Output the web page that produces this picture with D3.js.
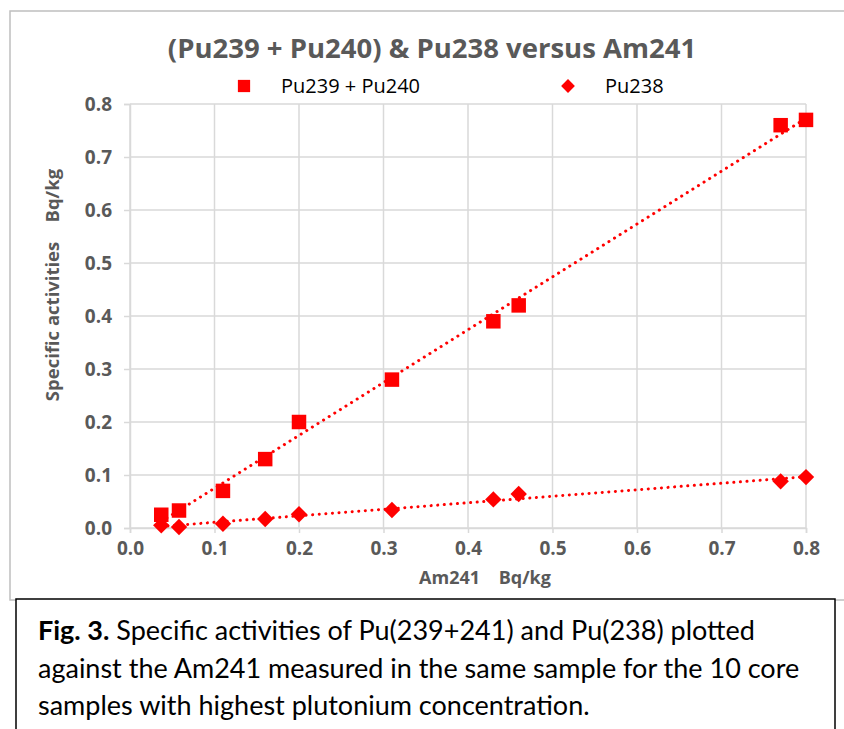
<!DOCTYPE html>
<html>
<head>
<meta charset="utf-8">
<script src="https://cdn.jsdelivr.net/npm/d3@7"></script>
<style>
  body { margin: 0; background: #fff; }
  svg { display: block; }
  .tick text { font-family: "Open Sans", sans-serif; font-weight: bold; font-size: 19px; fill: #595959; }
</style>
</head>
<body>
<svg width="844" height="729"></svg>
<script>
// data
var am241 = [0.037, 0.058, 0.11, 0.16, 0.2, 0.31, 0.43, 0.46, 0.77, 0.8];
var pu239240 = [0.025, 0.033, 0.07, 0.13, 0.2, 0.28, 0.39, 0.42, 0.76, 0.77];
var pu238 = [0.005, 0.002, 0.008, 0.017, 0.026, 0.034, 0.054, 0.064, 0.088, 0.096];
var xTicks = [0, 0.1, 0.2, 0.3, 0.4, 0.5, 0.6, 0.7, 0.8];
var yTicks = [0, 0.1, 0.2, 0.3, 0.4, 0.5, 0.6, 0.7, 0.8];
var seriesNames = ["Pu239 + Pu240", "Pu238"];

var svg = d3.select("svg");
var red = "#ff0000";
var grid = "#d9d9d9";
var chartFont = "'Open Sans', sans-serif";

// outer chart frame
svg.append("rect").attr("x", 10).attr("y", 11).attr("width", 850).attr("height", 589)
  .attr("fill", "none").attr("stroke", "#bfbfbf").attr("stroke-width", 1.5);

var pLeft = 130, pRight = 806, pTop = 104, pBottom = 528;
var x = d3.scaleLinear().domain([0, 0.8]).range([pLeft, pRight]);
var y = d3.scaleLinear().domain([0, 0.8]).range([pBottom, pTop]);

// grid
svg.append("g").selectAll("line").data(xTicks).enter().append("line")
  .attr("x1", function(d) { return x(d); }).attr("x2", function(d) { return x(d); })
  .attr("y1", pTop).attr("y2", pBottom)
  .attr("stroke", grid).attr("stroke-width", 1.5);
svg.append("g").selectAll("line").data(yTicks).enter().append("line")
  .attr("x1", pLeft).attr("x2", pRight)
  .attr("y1", function(d) { return y(d); }).attr("y2", function(d) { return y(d); })
  .attr("stroke", grid).attr("stroke-width", 1.5);

// axes
var xAxis = svg.append("g").attr("transform", "translate(0," + pBottom + ")")
  .call(d3.axisBottom(x).tickValues(xTicks).tickFormat(d3.format(".1f")).tickSize(5).tickPadding(9));
var yAxis = svg.append("g").attr("transform", "translate(" + pLeft + ",0)")
  .call(d3.axisLeft(y).tickValues(yTicks).tickFormat(d3.format(".1f")).tickSize(6).tickPadding(12));
[xAxis, yAxis].forEach(function(a) {
  a.select(".domain").attr("stroke", grid).attr("stroke-width", 1.5);
  a.selectAll(".tick line").attr("stroke", grid).attr("stroke-width", 1.5);
});

// linear trendlines (least squares over the data range)
function fit(xs, ys) {
  var mx = d3.mean(xs), my = d3.mean(ys);
  var sxy = d3.sum(xs, function(v, i) { return (v - mx) * (ys[i] - my); });
  var sxx = d3.sum(xs, function(v) { return (v - mx) * (v - mx); });
  var b = sxy / sxx;
  return function(v) { return my + b * (v - mx); };
}
[pu239240, pu238].forEach(function(ys) {
  var f = fit(am241, ys);
  var x0 = d3.min(am241), x1 = d3.max(am241);
  svg.append("line")
    .attr("x1", x(x0)).attr("y1", y(f(x0)))
    .attr("x2", x(x1)).attr("y2", y(f(x1)))
    .attr("stroke", red).attr("stroke-width", 3)
    .attr("stroke-linecap", "round").attr("stroke-dasharray", "0.1 6.5");
});

// markers (diamond = square turned 45 degrees)
var sq = d3.symbol().type(d3.symbolSquare).size(210);
var dia = d3.symbol().type(d3.symbolSquare).size(135);
svg.append("g").selectAll("path").data(am241).enter().append("path")
  .attr("d", sq)
  .attr("transform", function(d, i) { return "translate(" + x(d) + "," + y(pu239240[i]) + ")"; })
  .attr("fill", red);
svg.append("g").selectAll("path").data(am241).enter().append("path")
  .attr("d", dia)
  .attr("transform", function(d, i) { return "translate(" + x(d) + "," + y(pu238[i]) + ") rotate(45)"; })
  .attr("fill", red);

// title
svg.append("text").attr("x", 432).attr("y", 58).attr("text-anchor", "middle")
  .style("font-family", chartFont).style("font-weight", "bold")
  .style("font-size", "27.5px").attr("fill", "#595959")
  .text("(Pu239 + Pu240) & Pu238 versus Am241");

// legend
svg.append("path").attr("d", d3.symbol().type(d3.symbolSquare).size(150))
  .attr("transform", "translate(244,86)").attr("fill", red);
svg.append("path").attr("d", d3.symbol().type(d3.symbolSquare).size(95))
  .attr("transform", "translate(568,86) rotate(45)").attr("fill", red);
svg.append("text").attr("x", 281).attr("y", 93).text(seriesNames[0])
  .style("font-family", chartFont).style("font-size", "20px").attr("fill", "#000");
svg.append("text").attr("x", 605).attr("y", 93).text(seriesNames[1])
  .style("font-family", chartFont).style("font-size", "20px").attr("fill", "#000");

// axis titles
svg.append("text").attr("x", 485).attr("y", 584).attr("text-anchor", "middle")
  .style("font-family", chartFont).style("font-weight", "bold")
  .style("font-size", "18px").attr("fill", "#595959").attr("xml:space", "preserve")
  .text("Am241    Bq/kg");
svg.append("text").attr("transform", "translate(59,285) rotate(-90)").attr("text-anchor", "middle")
  .style("font-family", chartFont).style("font-weight", "bold")
  .style("font-size", "18.5px").attr("fill", "#595959").attr("xml:space", "preserve")
  .text("Specific activities    Bq/kg");

// caption box
svg.append("rect").attr("x", 16).attr("y", 599).attr("width", 819).attr("height", 140)
  .attr("fill", "#fff").attr("stroke", "#000").attr("stroke-width", 1.5);
var caption = [
  [["Fig. 3.", true], [" Specific activities of Pu(239+241) and Pu(238) plotted", false]],
  [["against the Am241 measured in the same sample for the 10 core", false]],
  [["samples with highest plutonium concentration.", false]]
];
caption.forEach(function(line, i) {
  var t = svg.append("text").attr("x", 38).attr("y", 640 + i * 37.5)
    .style("font-family", "Lato, 'Open Sans', sans-serif").style("font-size", "27px")
    .attr("fill", "#000").attr("xml:space", "preserve");
  line.forEach(function(p) {
    t.append("tspan").style("font-weight", p[1] ? "bold" : "normal").text(p[0]);
  });
});
</script>
</body>
</html>
